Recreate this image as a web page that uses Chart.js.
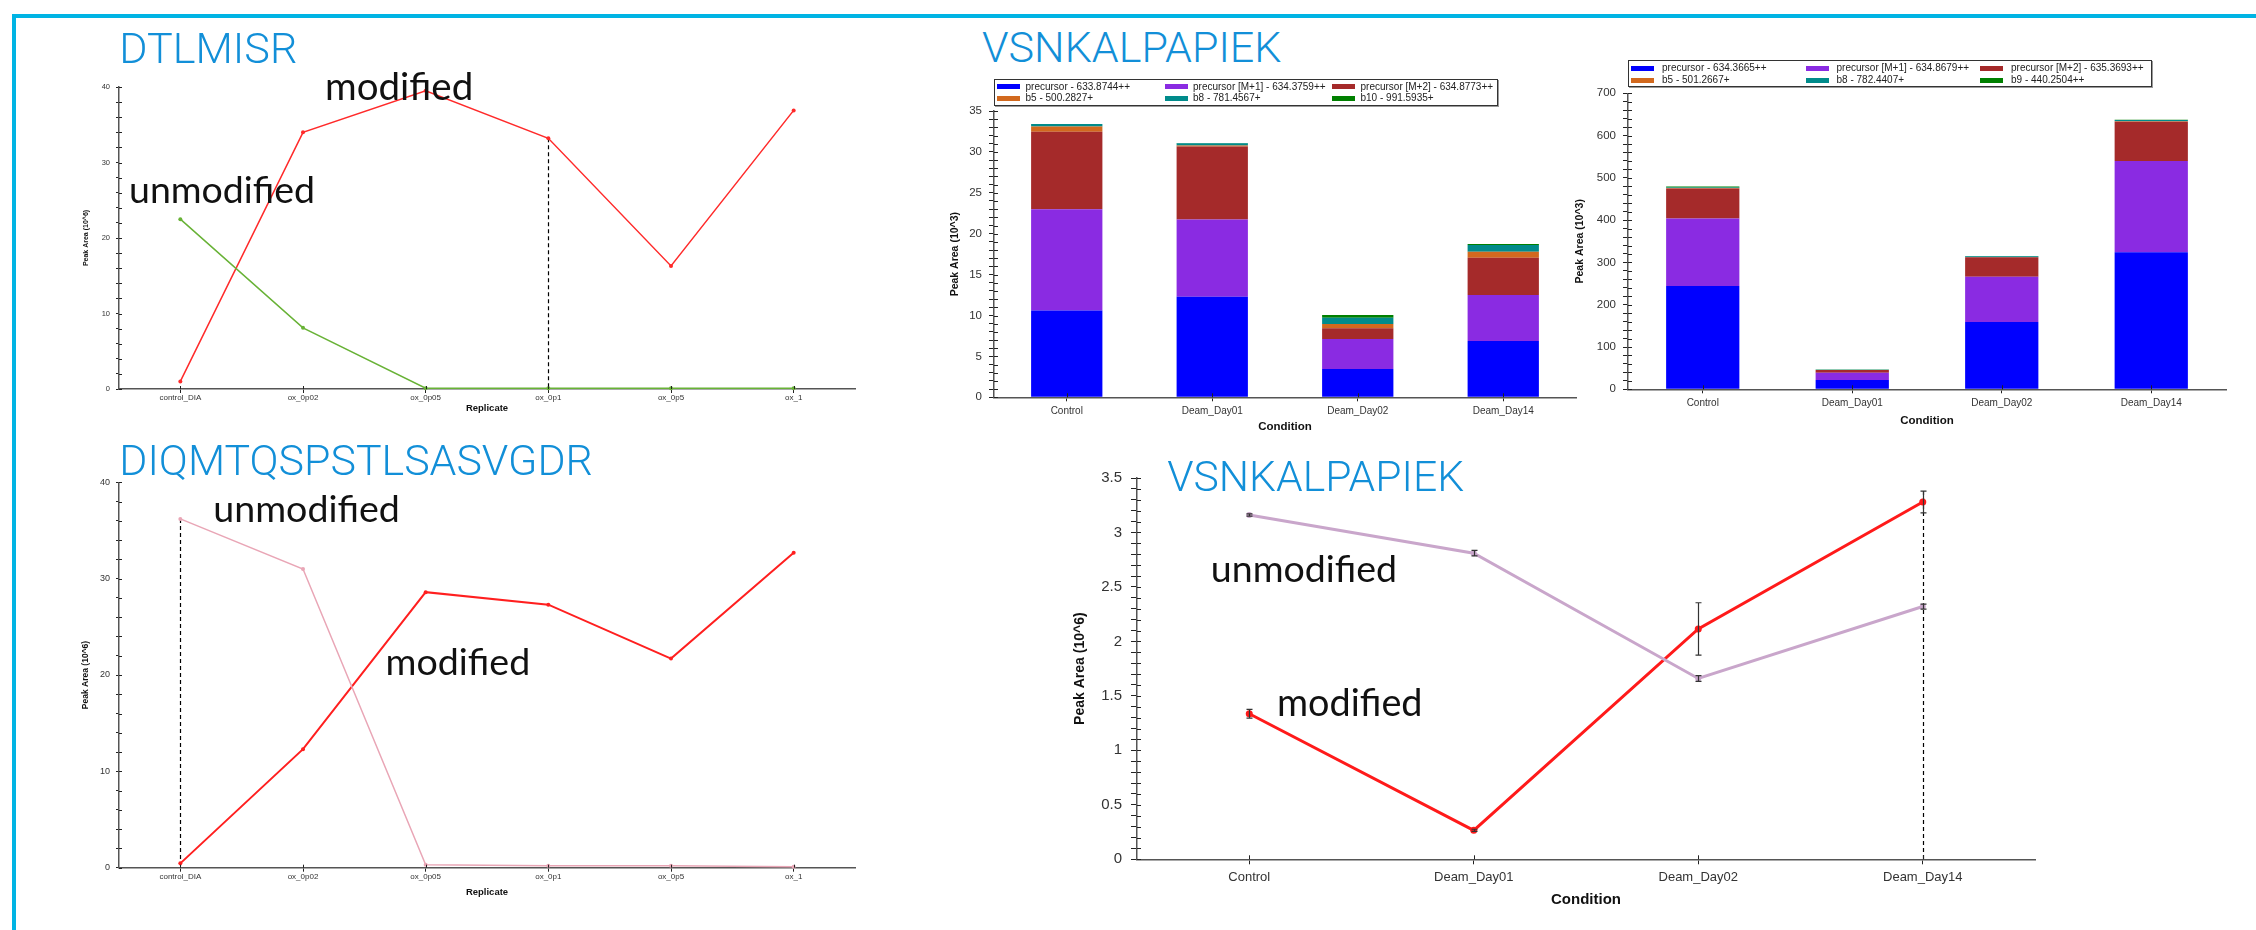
<!DOCTYPE html>
<html>
<head>
<meta charset="utf-8">
<script src="https://cdn.jsdelivr.net/npm/chart.js@4.4.1/dist/chart.umd.min.js"></script>
<style>
  html, body { margin: 0; padding: 0; background: #fff; }
  body { width: 2256px; height: 930px; position: relative; overflow: hidden; }
  canvas { position: absolute; }
  .frame { position: absolute; background: #00b4e4; }
  .txt { position: absolute; white-space: nowrap; }
  .legend { position: absolute; border: 1px solid #333; box-shadow: 1px 1px 0 #9a9a9a; background: #fff; box-sizing: border-box; }
  .legend .item { position: absolute; font: 10px "Liberation Sans", Arial, sans-serif; color: #222; line-height: 12px; white-space: nowrap; }
  .legend .sw { position: absolute; width: 23px; height: 5px; }
</style>
</head>
<body>
<div class="frame" style="left:12px;top:14px;width:2244px;height:4px"></div>
<div class="frame" style="left:12px;top:14px;width:4px;height:916px"></div>
<script>
// ---- replicate series (Peak Area, 10^6) ----
const replicates = ['control_DIA', 'ox_0p02', 'ox_0p05', 'ox_0p1', 'ox_0p5', 'ox_1'];
const dtlmisrModified   = [1.0, 34.0, 39.5, 33.2, 16.3, 36.9];
const dtlmisrUnmodified = [22.5, 8.1, 0.1, 0.1, 0.1, 0.1];
const diqModified       = [0.45, 12.3, 28.6, 27.3, 21.7, 32.7];
const diqUnmodified     = [36.2, 31.0, 0.3, 0.2, 0.2, 0.1];

// ---- condition series ----
const conditions = ['Control', 'Deam_Day01', 'Deam_Day02', 'Deam_Day14'];

// transition areas, first peptide form (10^3)
const ionsA = ['precursor - 633.8744++', 'precursor [M+1] - 634.3759++', 'precursor [M+2] - 634.8773++',
               'b5 - 500.2827+', 'b8 - 781.4567+', 'b10 - 991.5935+'];
const precursorA = [10.6, 12.3, 3.46, 6.88];
const precursorM1A = [12.4, 9.45, 3.67, 5.62];
const precursorM2A = [9.45, 8.9, 1.3, 4.57];
const b5A = [0.65, 0.12, 0.53, 0.73];
const b8A = [0.3, 0.3, 0.77, 0.82];
const b10A = [0.0, 0.02, 0.33, 0.12];

// transition areas, second peptide form (10^3)
const ionsB = ['precursor - 634.3665++', 'precursor [M+1] - 634.8679++', 'precursor [M+2] - 635.3693++',
               'b5 - 501.2667+', 'b8 - 782.4407+', 'b9 - 440.2504++'];
const precursorB = [244, 22, 159, 324];
const precursorM1B = [160, 17.3, 107, 216];
const precursorM2B = [71, 6.3, 46, 93];
const b5B = [1, 0.3, 0.5, 1];
const b8B = [1.5, 0.5, 2, 3];
const b9B = [2, 0.2, 0.5, 0.5];

const ionColors = ['#0000ff', '#8a2be2', '#a52a2a', '#d2691e', '#008b8b', '#008000'];

// condition means with error (10^6)
const vsnModified = [1.336, 0.266, 2.115, 3.28];
const vsnModifiedErr = [0.04, 0.01, 0.24, 0.10];
const vsnUnmodified = [3.16, 2.81, 1.66, 2.32];
const vsnUnmodifiedErr = [0.01, 0.025, 0.026, 0.023];

Chart.defaults.font.family = '"Liberation Sans", Arial, Helvetica, sans-serif';

// short tick marks on the inner side of both axes
const innerTicks = {
  id: 'innerTicks',
  afterDraw(chart, args, opts) {
    const { ctx, chartArea: a, scales: { x, y } } = chart;
    const len = opts.len || 3;
    ctx.save();
    ctx.strokeStyle = '#222';
    ctx.lineWidth = 1;
    ctx.beginPath();
    y.ticks.forEach((t, i) => {
      const py = Math.round(y.getPixelForTick(i)) + 0.5;
      ctx.moveTo(a.left, py); ctx.lineTo(a.left + len, py);
    });
    x.ticks.forEach((t, i) => {
      const px = Math.round(x.getPixelForValue(i)) + 0.5;
      ctx.moveTo(px, a.bottom); ctx.lineTo(px, a.bottom - len);
    });
    ctx.stroke();
    ctx.restore();
  }
};

// vertical error bars with caps
const errorBars = {
  id: 'errorBars',
  afterDatasetsDraw(chart, args, opts) {
    if (!opts.errors) return;
    const { ctx, scales: { x, y } } = chart;
    ctx.save();
    ctx.strokeStyle = '#333';
    ctx.lineWidth = 1.2;
    chart.data.datasets.forEach((ds, di) => {
      const errs = opts.errors[di];
      if (!errs) return;
      ds.data.forEach((v, i) => {
        const px = Math.round(x.getPixelForValue(i)) + 0.5;
        const hi = y.getPixelForValue(v + errs[i]);
        const lo = y.getPixelForValue(v - errs[i]);
        ctx.beginPath();
        ctx.moveTo(px, hi); ctx.lineTo(px, lo);
        ctx.moveTo(px - 3, hi); ctx.lineTo(px + 3, hi);
        ctx.moveTo(px - 3, lo); ctx.lineTo(px + 3, lo);
        ctx.stroke();
      });
    });
    ctx.restore();
  }
};

// dashed marker for the selected replicate / condition
const selectedLine = {
  id: 'selectedLine',
  beforeDatasetsDraw(chart, args, opts) {
    if (opts.index == null) return;
    const { ctx, scales: { x, y } } = chart;
    const i = opts.index;
    let top = -Infinity;
    chart.data.datasets.forEach((ds, di) => {
      const e = opts.errors && opts.errors[di] ? opts.errors[di][i] : 0;
      top = Math.max(top, ds.data[i] + e);
    });
    const px = Math.round(x.getPixelForValue(i)) + 0.5;
    ctx.save();
    ctx.strokeStyle = '#000';
    ctx.lineWidth = 1.2;
    ctx.setLineDash([4, 3]);
    ctx.beginPath();
    ctx.moveTo(px, y.getPixelForValue(top));
    ctx.lineTo(px, y.getPixelForValue(0));
    ctx.stroke();
    ctx.restore();
  }
};

function buildChart(s) {
  const yLh = s.yTitleSize * 1.2, xLh = s.xTitleSize * 1.2;
  const left = Math.round(s.yTitleX - yLh / 2);
  const top = Math.round(s.area.top - 14);
  const right = Math.round(s.area.right + 16);
  const bottom = Math.round(s.xTitleY + xLh / 2);
  const cv = document.createElement('canvas');
  cv.width = right - left;
  cv.height = bottom - top;
  cv.style.left = left + 'px';
  cv.style.top = top + 'px';
  document.body.appendChild(cv);
  const yW = s.area.left - left;
  const xH = bottom - s.area.bottom;
  const isMajor = v => Math.abs(v / s.yMajor - Math.round(v / s.yMajor)) < 1e-6;
  return new Chart(cv, {
    type: s.type,
    data: { labels: s.labels, datasets: s.datasets },
    plugins: [innerTicks, errorBars, selectedLine],
    options: {
      responsive: false,
      animation: false,
      devicePixelRatio: 1,
      layout: { padding: { left: 0, bottom: 0, top: s.area.top - top, right: right - s.area.right } },
      plugins: {
        legend: { display: false },
        tooltip: { enabled: false },
        innerTicks: { len: s.innerLen },
        errorBars: { errors: s.errors },
        selectedLine: { index: s.selected, errors: s.errors }
      },
      scales: {
        x: {
          type: 'category',
          offset: true,
          stacked: !!s.stacked,
          grid: { display: true, drawOnChartArea: false, drawTicks: true, tickLength: s.xTickLen, offset: false, color: '#222' },
          border: { display: true, color: '#555', width: 1.5 },
          ticks: { font: { size: s.xTickSize }, color: '#333', padding: s.xTickPad, maxRotation: 0, autoSkip: false },
          title: { display: true, text: s.xTitle, font: { size: s.xTitleSize, weight: 'bold' }, color: '#111', padding: 0 },
          afterFit: sc => { sc.height = xH; }
        },
        y: {
          min: 0,
          max: s.yMax,
          stacked: !!s.stacked,
          grid: { display: true, drawOnChartArea: false, drawTicks: true, tickLength: s.yTickLen, color: '#222' },
          border: { display: true, color: '#555', width: 1.5 },
          ticks: {
            stepSize: s.yStep, autoSkip: false, font: { size: s.yTickSize }, color: '#333', padding: s.yTickPad,
            callback: v => isMajor(v) ? String(+v.toFixed(2)) : ''
          },
          title: { display: true, text: s.yTitle, font: { size: s.yTitleSize, weight: 'bold' }, color: '#111', padding: 0 },
          afterFit: sc => { sc.width = yW; }
        }
      }
    }
  });
}

function lineSet(label, data, color, width, radius) {
  return {
    label, data, borderColor: color, backgroundColor: color, borderWidth: width,
    pointRadius: radius, pointBackgroundColor: color, pointBorderWidth: 0, tension: 0, clip: false
  };
}

function barSets(names, series) {
  return names.map((n, i) => ({
    label: n, data: series[i], backgroundColor: ionColors[i], borderWidth: 0,
    barPercentage: 0.49, categoryPercentage: 1
  }));
}

// DTLMISR
buildChart({
  type: 'line', labels: replicates,
  datasets: [
    lineSet('unmodified', dtlmisrUnmodified, '#68b236', 1.5, 2),
    lineSet('modified', dtlmisrModified, '#ff2a2a', 1.5, 2)
  ],
  area: { left: 119, right: 855, top: 87, bottom: 389 },
  yTitle: 'Peak Area (10^6)', yTitleX: 86, yTitleSize: 7,
  xTitle: 'Replicate', xTitleY: 408, xTitleSize: 9.5,
  yMax: 40, yStep: 2, yMajor: 10, yTickSize: 7.5, xTickSize: 8,
  yTickLen: 3, innerLen: 3, yTickPad: 6, xTickLen: 4, xTickPad: 0,
  selected: 3
});

// DIQMTQSPSTLSASVGDR
buildChart({
  type: 'line', labels: replicates,
  datasets: [
    lineSet('unmodified', diqUnmodified, '#e9a6b6', 1.5, 2),
    lineSet('modified', diqModified, '#ff1f1f', 2, 2)
  ],
  area: { left: 119, right: 855, top: 482.3, bottom: 867.7 },
  yTitle: 'Peak Area (10^6)', yTitleX: 86, yTitleSize: 8.5,
  xTitle: 'Replicate', xTitleY: 892.7, xTitleSize: 9.5,
  yMax: 40, yStep: 2, yMajor: 10, yTickSize: 9, xTickSize: 8,
  yTickLen: 3, innerLen: 3, yTickPad: 6, xTickLen: 4, xTickPad: 0,
  selected: 0
});

// VSNKALPAPIEK transitions, first form
buildChart({
  type: 'bar', labels: conditions, stacked: true,
  datasets: barSets(ionsA, [precursorA, precursorM1A, precursorM2A, b5A, b8A, b10A]),
  area: { left: 994, right: 1576, top: 111, bottom: 397.3 },
  yTitle: 'Peak Area (10^3)', yTitleX: 955, yTitleSize: 10.5,
  xTitle: 'Condition', xTitleY: 427, xTitleSize: 11.5,
  yMax: 35, yStep: 1, yMajor: 5, yTickSize: 11.5, xTickSize: 10,
  yTickLen: 5, innerLen: 4, yTickPad: 7, xTickLen: 4, xTickPad: 4
});

// VSNKALPAPIEK transitions, second form
buildChart({
  type: 'bar', labels: conditions, stacked: true,
  datasets: barSets(ionsB, [precursorB, precursorM1B, precursorM2B, b5B, b8B, b9B]),
  area: { left: 1628, right: 2226, top: 93.3, bottom: 389.3 },
  yTitle: 'Peak Area (10^3)', yTitleX: 1580.5, yTitleSize: 10.5,
  xTitle: 'Condition', xTitleY: 420.7, xTitleSize: 11.5,
  yMax: 700, yStep: 20, yMajor: 100, yTickSize: 11.5, xTickSize: 10,
  yTickLen: 5, innerLen: 4, yTickPad: 7, xTickLen: 4, xTickPad: 4
});

// VSNKALPAPIEK condition means
buildChart({
  type: 'line', labels: conditions,
  datasets: [
    lineSet('unmodified', vsnUnmodified, '#c9a6cb', 3, 3),
    lineSet('modified', vsnModified, '#ff1a1a', 3, 3.5)
  ],
  errors: [vsnUnmodifiedErr, vsnModifiedErr],
  area: { left: 1137, right: 2035, top: 474.3, bottom: 859.3 },
  yTitle: 'Peak Area (10^6)', yTitleX: 1080, yTitleSize: 14,
  xTitle: 'Condition', xTitleY: 900, xTitleSize: 15,
  yMax: 3.5, yStep: 0.1, yMajor: 0.5, yTickSize: 15, xTickSize: 13,
  yTickLen: 6, innerLen: 4, yTickPad: 9, xTickLen: 5, xTickPad: 5,
  selected: 3
});

// boxed legends above the transition bar charts
function legend(names, box) {
  const el = document.createElement('div');
  el.className = 'legend';
  Object.assign(el.style, { left: box.left + 'px', top: box.top + 'px', width: box.width + 'px', height: box.height + 'px' });
  names.forEach((n, i) => {
    const row = Math.floor(i / 3), col = i % 3;
    const cy = box.rows[row];
    const sw = document.createElement('div');
    sw.className = 'sw';
    Object.assign(sw.style, { left: (2 + col * box.colW) + 'px', top: (cy - 3.5) + 'px', background: ionColors[i] });
    const t = document.createElement('div');
    t.className = 'item';
    t.textContent = n;
    Object.assign(t.style, { left: (box.textOff + col * box.colW) + 'px', top: (cy - 7) + 'px' });
    el.appendChild(sw); el.appendChild(t);
  });
  document.body.appendChild(el);
}
legend(ionsA, { left: 994, top: 79, width: 504, height: 27, colW: 167.5, rows: [7.7, 19.3], textOff: 30.5 });
legend(ionsB, { left: 1628, top: 60, width: 524, height: 27, colW: 174.5, rows: [8.3, 20], textOff: 33 });

// peptide names and form annotations, placed by ink box
const mctx = document.createElement('canvas').getContext('2d');
function placeText(text, family, weight, color, inkLeft, inkRight, baseline) {
  let size = 40;
  mctx.font = `${weight} ${size}px ${family}`;
  let m = mctx.measureText(text);
  size = size * (inkRight - inkLeft) / (m.actualBoundingBoxLeft + m.actualBoundingBoxRight);
  mctx.font = `${weight} ${size}px ${family}`;
  m = mctx.measureText(text);
  const asc = m.fontBoundingBoxAscent, desc = m.fontBoundingBoxDescent;
  const d = document.createElement('div');
  d.className = 'txt';
  d.textContent = text;
  Object.assign(d.style, {
    font: `${weight} ${size}px ${family}`, color, lineHeight: (asc + desc) + 'px',
    left: (inkLeft + m.actualBoundingBoxLeft) + 'px', top: (baseline - asc) + 'px'
  });
  document.body.appendChild(d);
}
const titleFont = 'Roboto, "Open Sans", sans-serif';
const noteFont = 'Lato, "Open Sans", sans-serif';
const blue = '#128fd8';
placeText('DTLMISR', titleFont, 300, blue, 122.3, 295.6, 63.3);
placeText('DIQMTQSPSTLSASVGDR', titleFont, 300, blue, 122.3, 591.3, 475);
placeText('VSNKALPAPIEK', titleFont, 300, blue, 982, 1281.3, 61.7);
placeText('VSNKALPAPIEK', titleFont, 300, blue, 1167.2, 1463.9, 490.7);

placeText('modified', noteFont, 400, '#111', 327, 471, 100);
placeText('unmodified', noteFont, 400, '#111', 131, 313, 203.3);
placeText('unmodified', noteFont, 400, '#111', 215.3, 397.8, 521.7);
placeText('modified', noteFont, 400, '#111', 387.5, 528.1, 675);
placeText('unmodified', noteFont, 400, '#111', 1212.8, 1395, 581.7);
placeText('modified', noteFont, 400, '#111', 1279, 1420.4, 715.7);
</script>
</body>
</html>
